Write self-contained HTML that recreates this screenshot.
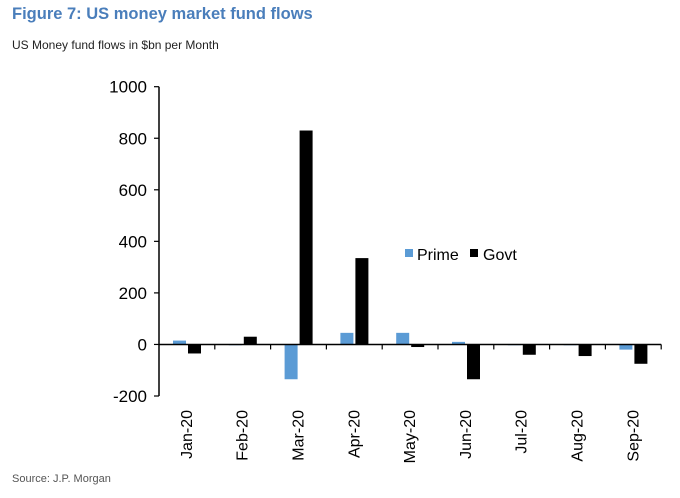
<!DOCTYPE html>
<html><head><meta charset="utf-8"><style>
body{margin:0;background:#fff;width:680px;height:493px;overflow:hidden;font-family:"Liberation Sans",Arial,sans-serif}
</style></head><body>
<svg width="680" height="493" xmlns="http://www.w3.org/2000/svg" font-family="Liberation Sans, Arial, sans-serif">
<text x="12" y="19" font-size="16.5" font-weight="bold" fill="#4a7ebb">Figure 7: US money market fund flows</text>
<text x="12" y="49" font-size="12" fill="#222">US Money fund flows in $bn per Month</text>
<text x="12" y="482" font-size="11" fill="#555">Source: J.P. Morgan</text>
<g id="plot"></g>
<g>
<rect x="405" y="249" width="8" height="8" fill="#5b9bd5"/>
<text x="417" y="260" font-size="16" fill="#000">Prime</text>
<rect x="470" y="249" width="8" height="8" fill="#000"/>
<text x="483" y="260" font-size="16" fill="#000">Govt</text>
</g>
</svg>
<script>
const categories=["Jan-20","Feb-20","Mar-20","Apr-20","May-20","Jun-20","Jul-20","Aug-20","Sep-20"];
const prime=[15,0,-135,45,45,10,-3,-3,-20];
const govt=[-35,30,830,335,-10,-135,-40,-45,-75];
const yTicks=[-200,0,200,400,600,800,1000];
const NS="http://www.w3.org/2000/svg";
const g=document.getElementById('plot');
const x0=159,catW=55.8,yMin=-200,yMax=1000,yTop=86.7,yBot=396;
function y(v){return yBot-(v-yMin)/(yMax-yMin)*(yBot-yTop);}
function xc(i){return x0+catW*i;}
function mk(t,a){const e=document.createElementNS(NS,t);for(const k in a)e.setAttribute(k,a[k]);g.appendChild(e);return e;}
prime.forEach((v,i)=>{
 const r=mk('rect',{x:xc(i)+14,y:Math.min(y(v),y(0)),width:13,height:Math.max(Math.abs(y(v)-y(0)),0.8),fill:'#5b9bd5'});
 
 
});
govt.forEach((v,i)=>{
 const r=mk('rect',{x:xc(i)+29,y:Math.min(y(v),y(0)),width:13,height:Math.abs(y(v)-y(0)),fill:'#000'});
 
 
});
const ya=mk('line',{x1:x0,x2:x0,y1:yTop,y2:yBot,stroke:'#000','stroke-width':1.5});


yTicks.forEach(t=>{
 mk('line',{x1:x0-5,x2:x0,y1:y(t),y2:y(t),stroke:'#000','stroke-width':1.2});
 const tx=mk('text',{x:x0-12,y:y(t)+6,'text-anchor':'end','font-size':17,fill:'#000'});
 tx.textContent=t;
 
 
});
const xa=mk('line',{x1:x0,x2:x0+catW*categories.length,y1:y(0),y2:y(0),stroke:'#000','stroke-width':1.5});


categories.forEach((c,i)=>{
 mk('line',{x1:xc(i+1),x2:xc(i+1),y1:y(0),y2:y(0)+5,stroke:'#000','stroke-width':1.2});
 const cx=xc(i)+catW/2+5;
 const tx=mk('text',{x:cx,y:410,'text-anchor':'end','font-size':16,fill:'#000',transform:`rotate(-90 ${cx} 410)`});
 tx.textContent=c;
 
 
});
</script>
</body></html>
